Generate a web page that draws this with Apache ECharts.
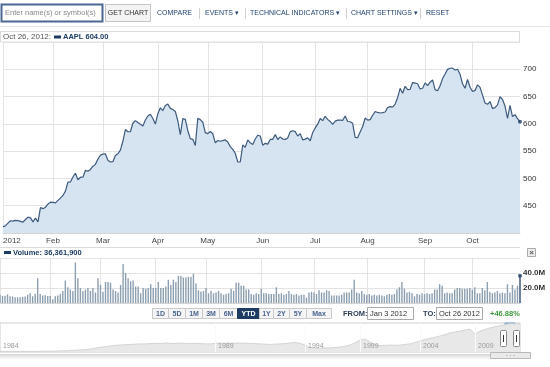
<!DOCTYPE html>
<html><head><meta charset="utf-8">
<script src="https://cdn.jsdelivr.net/npm/echarts@6/dist/echarts.min.js"></script>
<style>html,body{margin:0;padding:0;background:#fff}#c{width:550px;height:367px}</style>
</head><body><div id="c"></div>
<script>
// ---------- DATA ----------
const symbol = 'AAPL';
const holidays = ['2012-01-16','2012-02-20','2012-04-06','2012-05-28','2012-07-04','2012-09-03'];
const monthNames = ['2012','Feb','Mar','Apr','May','Jun','Jul','Aug','Sep','Oct'];
const prices = [
411.23,413.44,418.03,422.40,421.73,423.24,422.55,421.39,419.81,424.70,429.11,427.75,420.30,427.41,420.41,446.66,444.63,447.28,453.01,456.48,
456.19,455.12,459.68,463.97,468.83,476.68,493.17,493.42,502.60,509.46,497.67,502.21,502.12,514.85,513.04,516.39,522.41,525.76,535.41,542.44,
544.47,545.18,533.16,530.26,530.69,541.99,545.17,552.00,568.10,589.58,585.56,585.57,601.10,605.96,602.50,599.34,596.05,606.98,614.48,617.62,609.86,599.55,
618.63,629.32,624.31,633.68,636.23,628.44,626.20,622.77,605.23,580.13,609.70,608.34,587.44,572.98,571.70,560.28,610.00,607.70,603.00,583.98,
582.13,585.98,581.82,565.25,569.48,568.18,569.18,570.52,566.71,558.22,553.17,546.08,530.12,530.38,561.28,556.97,570.56,565.32,562.29,572.27,579.17,577.73,
560.99,564.29,562.83,571.46,571.72,580.32,571.17,576.16,572.16,571.53,574.13,585.78,587.41,585.74,577.67,582.10,570.77,572.02,574.50,569.05,584.00,
592.52,599.41,609.94,605.88,613.89,608.21,604.43,598.90,604.97,606.91,606.94,606.26,614.32,604.30,603.83,600.92,574.97,574.88,585.16,595.03,610.76,
606.81,607.79,615.70,622.55,620.91,619.86,620.73,621.70,630.00,631.69,630.83,636.34,648.11,665.15,656.06,668.87,662.63,663.22,675.68,674.80,673.47,663.87,665.24,
674.97,670.23,676.27,680.44,662.74,660.59,669.79,682.98,691.28,699.78,701.91,702.10,698.70,700.09,690.79,673.54,665.18,681.32,667.10,
659.39,661.31,671.45,666.80,652.59,638.17,635.85,640.91,628.10,629.71,634.76,649.79,644.61,632.64,609.84,634.03,613.36,616.83,609.54,604.00
];
// volume in millions of shares
const volumes = [
10.8,9.3,9.7,11.5,9.0,8.8,7.8,7.6,7.8,8.2,8.8,11.0,13.0,9.0,12.5,33.0,12.0,10.0,10.5,9.5,
9.5,5.0,9.0,10.0,12.0,16.0,30.0,21.0,18.0,16.0,54.0,33.0,20.0,16.0,18.0,20.0,16.0,20.0,14.0,33.0,
24,15,28,28,27,18,16,14,24,52,40,33,29,30,22,22,13,20,19,20,25,20,
20,28,20,20,22,31,24,31,28,36,36,34,34,35,35,39,26,17,15,16,
20,13,16,13,14,16,13,11,12,13,19,16,27,27,23,23,18,18,12,11,13,12,
19,13,13,12,12,12,21,12,13,11,12,16,12,11,12,10,11,11,7,14,15,
14,12,17,14,14,17,16,10,10,10,10,11,14,14,14,18,31,14,13,16,12,
11,12,10,11,10,11,10,9,11,12,11,12,18,21,28,19,14,15,13,9,12,11,13,
12,13,12,13,18,18,25,23,13,14,13,13,18,20,20,19,19,19,20,
18,21,13,13,20,17,28,15,13,14,16,13,14,13,25,14,24,18,23,36.3619
];
const rangeButtons = ['1D','5D','1M','3M','6M','YTD','1Y','2Y','5Y','Max'];
const activeRange = 'YTD';
// long-history navigator (relative height of the overview area)
const navYears = ['1984','1989','1994','1999','2004','2009'];
const navYearAt = [0,43,61,72,84,95];
const navValues = [
2,2,2,2,2,2,2,2,2,3,3,3,4,4,5,6,7,8,10,13,
16,18,21,23,24,25,26,27,28,28,29,30,29,31,30,29,31,30,29,30,
29,28,28,30,31,30,31,30,31,30,30,29,28,27,26,27,28,29,31,33,
30,24,15,14,13,14,14,16,17,20,24,32,41,45,34,26,22,23,24,23,
24,26,28,33,38,43,47,51,55,60,66,69,72,76,79,62,72,78,83,87,
91,94,97,97,98
];
const navSelected = [101,103];

// ---------- helpers ----------
function tradingDays(s,e){
  const out=[]; let d=new Date(s+'T00:00:00Z'); const end=new Date(e+'T00:00:00Z');
  while(d<=end){const w=d.getUTCDay(); const iso=d.toISOString().slice(0,10);
    if(w!==0&&w!==6&&!holidays.includes(iso)) out.push(iso);
    d=new Date(d.getTime()+86400000);}
  return out;
}
const dates = tradingDays('2012-01-03','2012-10-26');
const monthStart = new Set();
dates.forEach((d,i)=>{ if(i===0 || d.slice(5,7)!==dates[i-1].slice(5,7)) monthStart.add(i); });
const monAbbr=['Jan','Feb','Mar','Apr','May','Jun','Jul','Aug','Sep','Oct','Nov','Dec'];
function fmtDate(iso, comma){const m=+iso.slice(5,7)-1, d=+iso.slice(8,10), y=iso.slice(0,4); return monAbbr[m]+' '+d+(comma?', ':' ')+y;}
const last = prices.length-1;
const navCats = navValues.map((v,i)=>'p'+i);
const navYearSet = new Set(navYearAt);
const pct = (prices[last]/prices[0]-1)*100;

const FONT = "'Liberation Sans', Arial, sans-serif";
const NAVY = '#1d3c63';
const GRID = '#e3e3e3';

const chart = echarts.init(document.getElementById('c'), null, {renderer:'canvas'});

// UI graphics
const g = [];
g.push({type:'line', shape:{x1:0,y1:26.5,x2:550,y2:26.5}, style:{stroke:'#e6e6e6',lineWidth:1}});
g.push({type:'rect', shape:{x:1.5,y:4.5,width:101,height:17}, style:{fill:'#fff',stroke:'#4a6894',lineWidth:2}});
g.push({type:'text', x:5, y:13, style:{text:'Enter name(s) or symbol(s)', fill:'#8a8a8a', font:'7.5px '+FONT, verticalAlign:'middle'}});
g.push({type:'rect', shape:{x:105.5,y:4.5,width:45,height:17}, style:{fill:'#f3f3f3',stroke:'#c4c4c4',lineWidth:1}});
g.push({type:'text', x:128, y:13, style:{text:'GET CHART', fill:'#333', font:'7px '+FONT, align:'center', verticalAlign:'middle'}});
const menu = [['COMPARE',157],['EVENTS \u25BE',205],['TECHNICAL INDICATORS \u25BE',250],['CHART SETTINGS \u25BE',351],['RESET',426]];
menu.forEach(m=>g.push({type:'text', x:m[1], y:13.5, style:{text:m[0], fill:'#22436e', font:'7px '+FONT, verticalAlign:'middle'}}));
[199,245,346,420].forEach(x=>g.push({type:'line', shape:{x1:x+0.5,y1:8,x2:x+0.5,y2:19}, style:{stroke:'#d0d0d0',lineWidth:1}}));
// header of price panel
g.push({type:'rect', shape:{x:0.5,y:31.5,width:519,height:10.5}, style:{fill:'#fff',stroke:'#dcdcdc',lineWidth:1}});
g.push({type:'text', x:3, y:37, style:{text:fmtDate(dates[last],true)+':', fill:'#555', font:'8px '+FONT, verticalAlign:'middle'}});
g.push({type:'rect', shape:{x:54,y:35.5,width:7,height:3}, style:{fill:NAVY}});
g.push({type:'text', x:63, y:37, style:{text:symbol+' '+prices[last].toFixed(2), fill:NAVY, font:'bold 7.5px '+FONT, verticalAlign:'middle'}});
g.push({type:'text', x:3, y:228, style:{text:'\u00A9 2012 Yahoo! Inc.', fill:'#bccbd8', font:'7.5px '+FONT, verticalAlign:'middle'}});
// volume header
g.push({type:'line', shape:{x1:0,y1:247.5,x2:520,y2:247.5}, style:{stroke:'#dcdcdc',lineWidth:1}});
g.push({type:'rect', shape:{x:4,y:251,width:7,height:3}, style:{fill:NAVY}});
g.push({type:'text', x:13, y:252.5, style:{text:'Volume: '+Math.round(volumes[last]*1e6).toLocaleString('en-US'), fill:NAVY, font:'bold 7.5px '+FONT, verticalAlign:'middle'}});
g.push({type:'rect', shape:{x:527.5,y:248.5,width:8,height:8}, style:{fill:'#eee',stroke:'#aaa',lineWidth:1}});
g.push({type:'text', x:531.5, y:252.5, style:{text:'\u00D7', fill:'#555', font:'bold 8px '+FONT, align:'center', verticalAlign:'middle'}});
// range buttons
const edges=[152,168,185,202,219,237,259,273,289,306,331];
rangeButtons.forEach((b,i)=>{
  const on = b===activeRange;
  g.push({type:'rect', shape:{x:edges[i]+0.5,y:308.5,width:edges[i+1]-edges[i],height:10}, style:{fill:on?NAVY:'#f5f5f5',stroke:on?NAVY:'#c9c9c9',lineWidth:1}});
  g.push({type:'text', x:(edges[i]+edges[i+1])/2+0.5, y:313.7, style:{text:b, fill:on?'#fff':'#4a6690', font:'bold 7px '+FONT, align:'center', verticalAlign:'middle'}});
});
g.push({type:'text', x:343, y:313.5, style:{text:'FROM:', fill:'#2c3e58', font:'bold 7.5px '+FONT, verticalAlign:'middle'}});
g.push({type:'rect', shape:{x:367.5,y:307.5,width:46,height:12}, style:{fill:'#fff',stroke:'#aaa',lineWidth:1}});
g.push({type:'text', x:370, y:313.7, style:{text:fmtDate(dates[0]), fill:'#333', font:'7.5px '+FONT, verticalAlign:'middle'}});
g.push({type:'text', x:423, y:313.5, style:{text:'TO:', fill:'#2c3e58', font:'bold 7.5px '+FONT, verticalAlign:'middle'}});
g.push({type:'rect', shape:{x:436.5,y:307.5,width:46,height:12}, style:{fill:'#fff',stroke:'#aaa',lineWidth:1}});
g.push({type:'text', x:439, y:313.7, style:{text:fmtDate(dates[last]), fill:'#333', font:'7.5px '+FONT, verticalAlign:'middle'}});
g.push({type:'text', x:490, y:313.5, style:{text:(pct>=0?'+':'')+pct.toFixed(2)+'%', fill:'#3d9a3d', font:'bold 7.5px '+FONT, verticalAlign:'middle'}});
// navigator frame, track and handles
g.push({type:'rect', shape:{x:0,y:354,width:490,height:6}, style:{fill:new echarts.graphic.LinearGradient(0,0,0,1,[{offset:0,color:'#d6d6d6'},{offset:1,color:'#ffffff'}])}});
g.push({type:'rect', z:10, shape:{x:490.5,y:352.5,width:40,height:6}, style:{fill:'#eaeaea',stroke:'#b9b9b9',lineWidth:1}});
g.push({type:'text', z:11, x:510.5, y:355.5, style:{text:'- - -', fill:'#888', font:'6px '+FONT, align:'center', verticalAlign:'middle'}});
[500.5,513.5].forEach(x=>{
  g.push({type:'rect', z:10, shape:{x:x,y:330.5,width:6,height:16,r:1}, style:{fill:'#fff',stroke:'#888',lineWidth:1}});
  g.push({type:'line', z:11, shape:{x1:x+3,y1:335,x2:x+3,y2:342}, style:{stroke:'#333',lineWidth:1}});
});

const option = {
  animation:false,
  backgroundColor:'#fff',
  textStyle:{fontFamily:FONT},
  grid:[
    {left:0,right:30,top:42,height:191,containLabel:false},
    {left:0,right:30,top:258,height:45,containLabel:false},
    {left:0,right:30,top:323,height:29,containLabel:false,show:true,borderColor:'#d0d0d0',borderWidth:1,backgroundColor:'#fff'}
  ],
  xAxis:[
    {type:'category',gridIndex:0,data:dates,boundaryGap:false,
     axisLine:{show:true,lineStyle:{color:'#d4d4d4'}},axisTick:{show:false},
     axisLabel:{interval:(i)=>monthStart.has(i),formatter:(v,i)=>{const m=+v.slice(5,7)-1;return i===0?monthNames[0]:monthNames[m];},
       fontSize:8,color:'#444',margin:4,alignMinLabel:'left',fontFamily:FONT},
     splitLine:{show:true,interval:(i)=>monthStart.has(i),lineStyle:{color:GRID,width:1}}},
    {type:'category',gridIndex:1,data:dates,boundaryGap:false,
     axisLine:{show:true,lineStyle:{color:'#d4d4d4'}},axisTick:{show:false},axisLabel:{show:false},
     splitLine:{show:true,interval:(i)=>monthStart.has(i),lineStyle:{color:GRID,width:1}}},
    {type:'category',gridIndex:2,data:navCats,boundaryGap:false,z:6,
     axisLine:{show:false},axisTick:{show:false},
     axisLabel:{inside:true,interval:(i)=>navYearSet.has(i),hideOverlap:false,
       formatter:(v,i)=>{const k=navYearAt.indexOf(i);return k>=0?navYears[k]:'';},
       fontSize:7,color:'#9a9a9a',align:'left',padding:[0,0,0,3],margin:2,fontFamily:FONT},
     splitLine:{show:true,interval:(i)=>navYearSet.has(i)&&i>0,lineStyle:{color:'#fafafa',width:1}}}
  ],
  yAxis:[
    {type:'value',gridIndex:0,position:'right',min:400,max:750,interval:50,
     axisLine:{show:false},axisTick:{show:false},
     axisLabel:{formatter:v=>(v>400&&v<750)?String(v):'',fontSize:8,color:'#333',margin:3,fontFamily:FONT},
     splitLine:{lineStyle:{color:GRID,width:1}}},
    {type:'value',gridIndex:1,position:'right',min:0,max:60,interval:20,
     axisLine:{show:false},axisTick:{show:false},
     axisLabel:{formatter:v=>(v>0&&v<60)?v.toFixed(1)+'M':'',fontSize:8,color:'#333',margin:3,fontFamily:FONT,fontWeight:'bold'},
     splitLine:{lineStyle:{color:GRID,width:1}}},
    {type:'value',gridIndex:2,min:0,max:100,show:false}
  ],
  series:[
    {type:'line',xAxisIndex:0,yAxisIndex:0,data:prices,showSymbol:false,smooth:false,
     lineStyle:{color:'#3d5a7d',width:1.2},areaStyle:{color:'#d5e4f0',opacity:1,origin:'start'},z:3},
    {type:'scatter',xAxisIndex:0,yAxisIndex:0,data:prices.map((v,i)=>i===last?v:'-'),symbol:'circle',symbolSize:4,itemStyle:{color:NAVY},z:5},
    {type:'bar',xAxisIndex:1,yAxisIndex:1,data:volumes,barWidth:1.4,
     itemStyle:{color:(p)=>p.dataIndex===last?'#2f4d70':'#8c9fb0'}},
    {type:'scatter',xAxisIndex:1,yAxisIndex:1,data:volumes.map((v,i)=>i===last?v:'-'),symbol:'circle',symbolSize:4,itemStyle:{color:NAVY},z:5},
    {type:'line',xAxisIndex:2,yAxisIndex:2,data:navValues,showSymbol:false,
     lineStyle:{color:'#cdcdcd',width:0.8},areaStyle:{color:'#e8e8e8',opacity:1,origin:'start'},
     markArea:{silent:true,itemStyle:{color:'rgba(190,216,240,0.7)',borderColor:'#6c9cc8',borderWidth:1},
       data:[[{xAxis:navSelected[0]},{xAxis:navSelected[1]}]]}}
  ],
  graphic:g
};
chart.setOption(option);
</script></body></html>
